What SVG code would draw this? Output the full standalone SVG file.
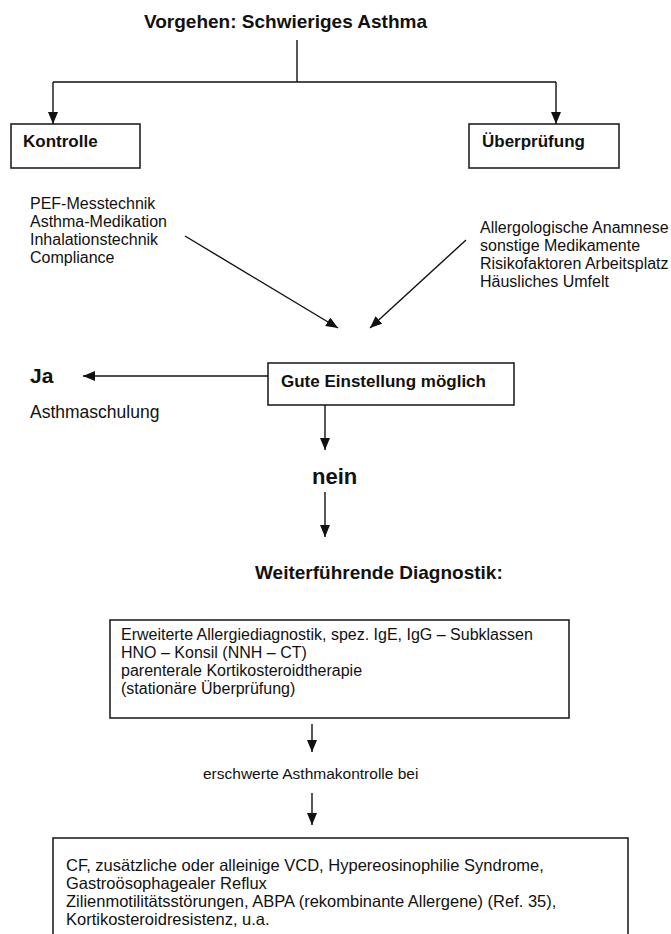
<svg xmlns="http://www.w3.org/2000/svg" width="671" height="934" viewBox="0 0 671 934">
<defs>
<style>
.t{font-family:"Liberation Sans",Arial,sans-serif;fill:#111;}
.r{font-size:16px;}
.b{font-weight:bold;}
.box{fill:none;stroke:#222;stroke-width:1.6;}
.ln{fill:none;stroke:#111;stroke-width:1.4;}
</style>
<marker id="ah" viewBox="0 0 12 10" refX="12" refY="5" markerWidth="12" markerHeight="10" markerUnits="userSpaceOnUse" orient="auto">
<path d="M0,0 L12,5 L0,10 z" fill="#111"/>
</marker>
</defs>
<rect width="671" height="934" fill="#fff"/>

<g id="title"><text class="t b" x="144" y="28" font-size="19">Vorgehen: Schwieriges Asthma</text></g>

<g id="kontrolle">
<rect class="box" x="11" y="124" width="129" height="44"/>
<text class="t b" x="23" y="147" font-size="17">Kontrolle</text>
</g>
<g id="ueberpruefung">
<rect class="box" x="469" y="124" width="150" height="44"/>
<text class="t b" x="482" y="147" font-size="17">Überprüfung</text>
</g>

<g id="kontrolle-list">
<text class="t r" x="30" y="209">PEF-Messtechnik</text>
<text class="t r" x="30" y="227">Asthma-Medikation</text>
<text class="t r" x="30" y="245">Inhalationstechnik</text>
<text class="t r" x="30" y="263">Compliance</text>
</g>
<g id="ueberpruefung-list">
<text class="t r" x="480" y="233">Allergologische Anamnese</text>
<text class="t r" x="480" y="251">sonstige Medikamente</text>
<text class="t r" x="480" y="269">Risikofaktoren Arbeitsplatz</text>
<text class="t r" x="480" y="287">Häusliches Umfelt</text>
</g>

<g id="gute">
<rect class="box" x="268" y="363" width="246" height="42"/>
<text class="t b" x="281" y="387" font-size="17">Gute Einstellung möglich</text>
</g>
<g id="ja">
<text class="t b" x="30" y="383" font-size="21">Ja</text>
<text class="t" x="30" y="418" font-size="17.5">Asthmaschulung</text>
</g>
<g id="nein"><text class="t b" x="312" y="484" font-size="22">nein</text></g>
<g id="weiter"><text class="t b" x="255" y="579" font-size="19">Weiterführende Diagnostik:</text></g>

<g id="diagnostik">
<rect class="box" x="110" y="620" width="459" height="98"/>
<text class="t r" x="121" y="640">Erweiterte Allergiediagnostik, spez. IgE, IgG – Subklassen</text>
<text class="t r" x="121" y="658">HNO – Konsil (NNH – CT)</text>
<text class="t r" x="121" y="676">parenterale Kortikosteroidtherapie</text>
<text class="t r" x="121" y="694">(stationäre Überprüfung)</text>
</g>
<g id="erschwert"><text class="t" x="203" y="779" font-size="15.5">erschwerte Asthmakontrolle bei</text></g>
<g id="ursachen">
<rect class="box" x="53" y="838" width="575" height="110"/>
<text class="t" x="66" y="871" font-size="16.5">CF, zusätzliche oder alleinige VCD, Hypereosinophilie Syndrome,</text>
<text class="t" x="66" y="889" font-size="16.5">Gastroösophagealer Reflux</text>
<text class="t" x="66" y="907" font-size="16.5">Zilienmotilitätsstörungen, ABPA (rekombinante Allergene) (Ref. 35),</text>
<text class="t" x="66" y="925" font-size="16.5">Kortikosteroidresistenz, u.a.</text>
</g>

<g id="connectors">
<path class="ln" d="M297,40 V82"/>
<path class="ln" d="M53,82 H556"/>
<path class="ln" d="M53,82 V124" marker-end="url(#ah)"/>
<path class="ln" d="M556,82 V124" marker-end="url(#ah)"/>
<path class="ln" d="M185,236 L338,328" marker-end="url(#ah)"/>
<path class="ln" d="M466,240 L370,328" marker-end="url(#ah)"/>
<path class="ln" d="M268,376 H83" marker-end="url(#ah)"/>
<path class="ln" d="M325,405 V450" marker-end="url(#ah)"/>
<path class="ln" d="M325,492 V537" marker-end="url(#ah)"/>
<path class="ln" d="M312,724 V752" marker-end="url(#ah)"/>
<path class="ln" d="M312,793 V825" marker-end="url(#ah)"/>
</g>
</svg>
